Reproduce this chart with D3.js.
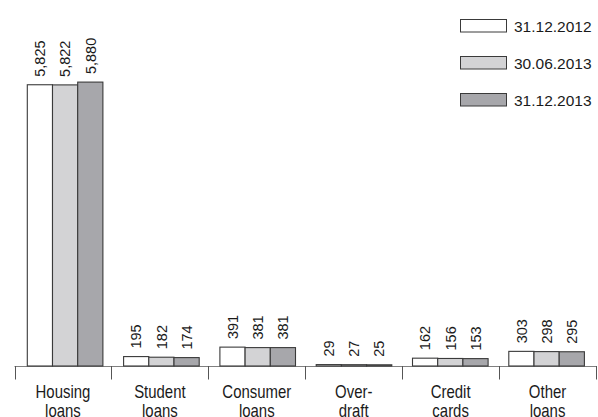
<!DOCTYPE html>
<html><head><meta charset="utf-8">
<script src="https://cdn.jsdelivr.net/npm/d3@7"></script>
<style>
html,body{margin:0;padding:0;background:#fff;}
svg{display:block;}
text{font-family:"Liberation Sans","Arial",sans-serif;fill:#1a1a1a;}
</style></head>
<body>
<svg id="c" width="598" height="417"></svg>
<script>
const categories = ["Housing loans","Student loans","Consumer loans","Over- draft","Credit cards","Other loans"];
const categoryLines = [["Housing","loans"],["Student","loans"],["Consumer","loans"],["Over-","draft"],["Credit","cards"],["Other","loans"]];
const series = ["31.12.2012","30.06.2013","31.12.2013"];
const values2012a = [5825,195,391,29,162,303];
const values2013a = [5822,182,381,27,156,298];
const values2013b = [5880,174,381,25,153,295];
const valueLabels = [
  ["5,825","5,822","5,880"],["195","182","174"],["391","381","381"],
  ["29","27","25"],["162","156","153"],["303","298","295"]
];
const colors = ["#ffffff","#d3d3d5","#a7a7ab"];

const svg = d3.select("#c");
const allValues = [values2012a, values2013a, values2013b];

const baseY = 366;
const y = d3.scaleLinear().domain([0,6000]).range([baseY, 76.3]);
const xTick = d3.scaleBand().domain(categories).range([14.5,596]);
const xGroup = d3.scaleBand().domain(categories).range([27.3, 27.3 + 6*96.3]);
const xInner = d3.scaleBand().domain(series).range([0, 75.6]);

// axis
svg.append("line").attr("x1",14.5).attr("x2",596).attr("y1",baseY+0.5).attr("y2",baseY+0.5)
  .attr("stroke","#808080").attr("stroke-width",1);
const tickPos = categories.map(c=>xTick(c)).concat([xTick.range()[1]]);
svg.selectAll("line.tick").data(tickPos).enter().append("line")
  .attr("class","tick")
  .attr("x1",d=>Math.round(d)+0.5).attr("x2",d=>Math.round(d)+0.5)
  .attr("y1",baseY).attr("y2",379.5)
  .attr("stroke","#555").attr("stroke-width",1);

// bars
categories.forEach((cat,ci)=>{
  series.forEach((s,si)=>{
    const v = allValues[si][ci];
    const x0 = xGroup(cat) + xInner(s);
    const yTop = y(v);
    svg.append("rect")
      .attr("x", x0).attr("y", yTop)
      .attr("width", xInner.bandwidth()).attr("height", Math.max(0.8, baseY - yTop))
      .attr("fill", colors[si]).attr("stroke","#3a3a3a").attr("stroke-width",1.1);
    svg.append("text")
      .attr("transform", `translate(${x0 + xInner.bandwidth()/2 + 5.2},${yTop - 8}) rotate(-90)`)
      .attr("font-size", 14.5)
      .text(valueLabels[ci][si]);
  });
  const cx = xTick(cat) + xTick.bandwidth()/2;
  const g = svg.append("g").attr("transform", `translate(${cx},0) scale(0.83,1)`);
  const t = g.append("text").attr("text-anchor","middle").attr("font-size",18);
  categoryLines[ci].forEach((ln,li)=>{
    t.append("tspan").attr("x",0).attr("y",398.5 + li*18.5).text(ln);
  });
});

// legend
series.forEach((s,i)=>{
  const ly = 19.5 + i*37;
  svg.append("rect").attr("x",460.5).attr("y",ly).attr("width",46).attr("height",12.5)
    .attr("fill",colors[i]).attr("stroke","#3a3a3a").attr("stroke-width",1);
  svg.append("text").attr("x",514).attr("y",ly+12.8).attr("font-size",15.5).text(s);
});
</script>
</body></html>
